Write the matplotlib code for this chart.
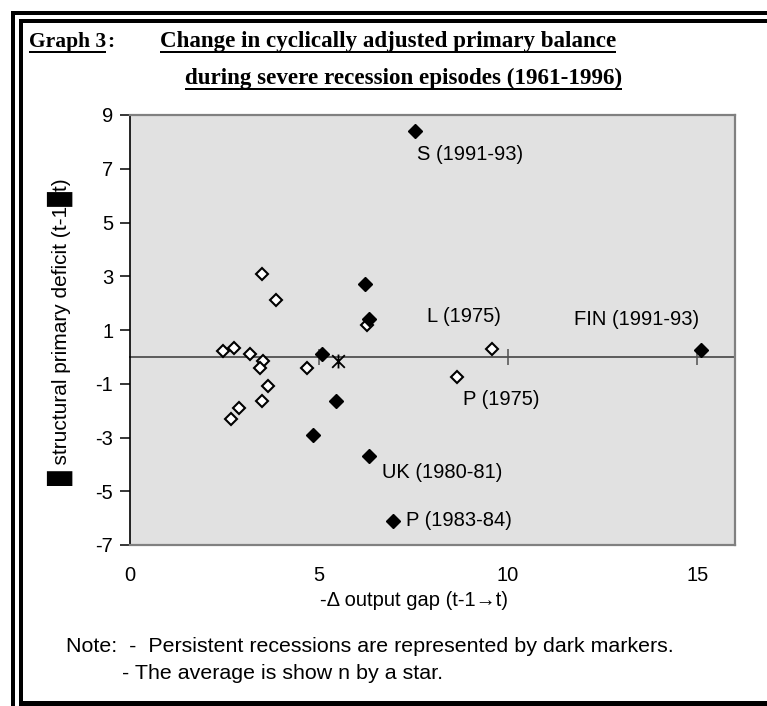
import matplotlib
matplotlib.use('Agg')
import matplotlib.pyplot as plt
from matplotlib.patches import Rectangle
from matplotlib.path import Path

W, H = 767, 706
DPI = 100

# ---- data ----
open_x = [2.45, 2.76, 3.17, 3.48, 3.85, 3.53, 3.44, 3.64, 3.48, 2.87, 2.66, 4.67, 6.28, 9.57, 8.66]
open_y = [0.23, 0.32, 0.09, 3.09, 2.12, -0.14, -0.42, -1.07, -1.66, -1.89, -2.32, -0.42, 1.18, 0.31, -0.76]
dark_x = [5.09, 5.45, 4.83, 6.22, 6.33, 6.33, 7.54, 6.95, 15.11]
dark_y = [0.09, -1.66, -2.90, 2.72, 1.42, -3.70, 8.42, -6.11, 0.26]
avg_x = [5.50]
avg_y = [-0.14]
label_text = ["S (1991-93)", "L (1975)", "FIN (1991-93)", "P (1975)", "UK (1980-81)", "P (1983-84)"]
label_x = [7.59, 7.86, 11.75, 8.81, 6.67, 7.30]
label_y = [7.52, 1.49, 1.38, -1.60, -4.32, -6.07]
x_ticks = [0, 5, 10, 15]
zero_ticks = [5, 10, 15]
y_ticks = [9, 7, 5, 3, 1, -1, -3, -5, -7]

SANS = ['Liberation Sans', 'DejaVu Sans']
SERIF = ['Liberation Serif', 'DejaVu Serif']
plt.rcParams['font.family'] = SANS

fig = plt.figure(figsize=(W / DPI, H / DPI), dpi=DPI)
fig.patch.set_facecolor('white')


def px_rect(x0, y0, w, h, color='black'):
    fig.patches.append(Rectangle((x0 / W, 1 - (y0 + h) / H), w / W, h / H,
                                 transform=fig.transFigure, figure=fig,
                                 facecolor=color, edgecolor='none'))

# double frame
px_rect(11, 11, W - 11, 4)
px_rect(11, 11, 4, H - 11)
px_rect(19, 19, W - 19, 4)
px_rect(19, 19, 4, 687)
px_rect(19, 701, W - 19, 5)

ax = fig.add_axes([130 / W, (H - 545) / H, (735 - 130) / W, (545 - 115) / H])
ax.set_xlim(0, 16)
ax.set_ylim(-7, 9)
ax.set_facecolor('#e1e1e1')
for s in ['top', 'right', 'bottom']:
    ax.spines[s].set_color('#808080')
    ax.spines[s].set_linewidth(1.6)
ax.spines['left'].set_color('black')
ax.spines['left'].set_linewidth(1.2)

ax.set_yticks(y_ticks)
ax.set_yticklabels([str(v) for v in y_ticks])
ax.tick_params(axis='y', direction='out', length=7, width=1.1, color='black',
               labelsize=14.5, pad=5)
ax.set_xticks(x_ticks)
ax.set_xticklabels([str(v) for v in x_ticks])
ax.tick_params(axis='x', length=0, pad=15, labelsize=14.5)

# zero axis with its ticks
sec = ax.secondary_xaxis(7 / 16)
sec.set_xticks(zero_ticks)
sec.tick_params(direction='inout', length=12, width=1.1, color='#505050',
                labelbottom=False)
sec.spines['bottom'].set_color('#505050')
sec.spines['bottom'].set_linewidth(1.3)

ax.plot(open_x, open_y, ls='none', marker='D', ms=6.4, mfc='white',
        mec='black', mew=1.5, zorder=5)
ax.plot(dark_x, dark_y, ls='none', marker='D', ms=7.3, mfc='black',
        mec='black', mew=1, zorder=5)
star = Path([(-1, -1), (1, 1), (-1, 1), (1, -1), (0, -1.1), (0, 1.1)],
            [Path.MOVETO, Path.LINETO, Path.MOVETO, Path.LINETO, Path.MOVETO, Path.LINETO])
ax.plot(avg_x, avg_y, ls='none', marker=star, ms=10, mfc='none',
        mec='black', mew=1.3, zorder=6)

for t, x, y in zip(label_text, label_x, label_y):
    ax.text(x, y, t, ha='left', va='center', fontsize=14.5, color='black', zorder=7)

# axis titles
fig.text(60 / W, 1 - 332 / H, "\u2588 structural primary deficit (t-1\u2588t)",
         rotation=90, ha='center', va='center', fontsize=15, family=SANS)
fig.text(414 / W, 1 - 600 / H, "-\u0394 output gap (t-1\u2192t)",
         ha='center', va='center', fontsize=14.5, family=SANS)

# notes
fig.text(66 / W, 1 - 652 / H,
         "Note:  -  Persistent recessions are represented by dark markers.",
         ha='left', va='baseline', fontsize=15.4, family=SANS)
fig.text(122 / W, 1 - 679 / H, "- The average is show n by a star.",
         ha='left', va='baseline', fontsize=15.4, family=SANS)

# title
t_g = fig.text(29 / W, 1 - 47 / H, "Graph 3", family=SERIF, weight='bold',
               fontsize=15.5, ha='left', va='baseline')
t_1 = fig.text(160 / W, 1 - 47 / H, "Change in cyclically adjusted primary balance",
               family=SERIF, weight='bold', fontsize=16.6, ha='left', va='baseline')
t_2 = fig.text(622 / W, 1 - 84 / H, "during severe recession episodes (1961-1996)",
               family=SERIF, weight='bold', fontsize=16.6, ha='right', va='baseline')

fig.canvas.draw()
r = fig.canvas.get_renderer()
bb = t_g.get_window_extent(r)
fig.text((bb.x1 + 1) / W, 1 - 47 / H, ":", family=SERIF, weight='bold',
         fontsize=15.5, ha='left', va='baseline')


def underline(t, base_px):
    b = t.get_window_extent(r)
    px_rect(b.x0, base_px + 4, b.x1 - b.x0, 2)

underline(t_g, 47)
underline(t_1, 47)
underline(t_2, 84)

fig.savefig('out.png', dpi=DPI, facecolor='white')
